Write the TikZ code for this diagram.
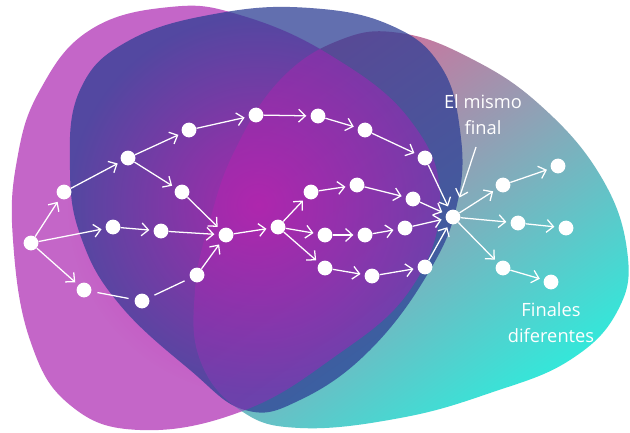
\documentclass[tikz,border=0pt]{standalone}
\usepackage{fontspec}
\setmainfont{Open Sans}
\usetikzlibrary{arrows.meta, fadings}

\definecolor{rosa}{HTML}{C466C8}
\definecolor{azul}{HTML}{2E3F95}
\definecolor{rosado}{HTML}{DA6898}
\definecolor{gris}{HTML}{8CA8B8}
\definecolor{turquesa}{HTML}{30EADB}
\definecolor{violeta}{HTML}{9A28B8}
\definecolor{brillo}{HTML}{C81EB0}

\tikzfading[name=halo, inner color=transparent!0, outer color=transparent!100]

\begin{document}
\begin{tikzpicture}
[x=0.025cm, y=-0.025cm,
 punto/.style={circle, fill=white, inner sep=0pt, minimum size=3.7mm},
 flecha/.style={draw=white, line width=0.9pt, -{Straight Barb[length=1.7mm,width=3.2mm]}, shorten >=1mm},
 linea/.style={draw=white, line width=0.9pt, shorten <=1.5mm, shorten >=1.5mm},
 rotulo/.style={text=white, align=center, font=\fontsize{13}{18.5}\selectfont}]

\path[use as bounding box, fill=white] (0,0) rectangle (630,433);

% las tres manchas
\def\rosaPts{(13,240) (17,160) (40,90) (90,30) (170,7) (240,15) (330,55) (410,120)
  (440,200) (410,290) (330,360) (240,412) (140,430) (70,405) (30,340)}
\def\azulPts{(70,170) (80,90) (130,40) (220,13) (310,8) (390,25) (440,65) (460,130)
  (458,200) (430,270) (370,350) (300,400) (245,410) (190,370) (120,305) (82,240)}
\def\turqPts{(210,220) (235,150) (280,80) (340,40) (400,33) (470,58) (540,105)
  (600,175) (627,250) (618,310) (570,360) (490,393) (400,418) (300,428) (240,410)
  (200,360) (195,290)}

\fill[rosa] plot[smooth cycle, tension=0.7] coordinates {\rosaPts};
\shade[top color=rosado, middle color=gris, bottom color=turquesa, shading angle=35]
  plot[smooth cycle, tension=0.7] coordinates {\turqPts};
\fill[azul, fill opacity=0.75] plot[smooth cycle, tension=0.7] coordinates {\azulPts};

% zona comun: mas violeta y un brillo al centro
\begin{scope}
  \clip plot[smooth cycle, tension=0.7] coordinates {\rosaPts};
  \begin{scope}
    \clip plot[smooth cycle, tension=0.7] coordinates {\turqPts};
    \fill[violeta, fill opacity=0.5] (0,0) rectangle (630,433);
  \end{scope}
  \fill[brillo, path fading=halo, fill opacity=0.7] (258,205) circle (190);
\end{scope}

% caminos
\node[punto] (ini) at (31,243) {};
\node[punto] (a1) at (64,192) {};
\node[punto] (a2) at (113,227) {};
\node[punto] (a3) at (84,290) {};
\node[punto] (b1) at (128,158) {};
\node[punto] (b2) at (189,130) {};
\node[punto] (b3) at (256,115) {};
\node[punto] (b4) at (318,116) {};
\node[punto] (b5) at (365,130) {};
\node[punto] (b6) at (425,158) {};
\node[punto] (c1) at (182,192) {};
\node[punto] (m2) at (161,231) {};
\node[punto] (d1) at (142,301) {};
\node[punto] (d2) at (197,275) {};
\node[punto] (une) at (226,235) {};
\node[punto] (rama) at (278,227) {};
\node[punto] (e1) at (311,192) {};
\node[punto] (e2) at (357,185) {};
\node[punto] (e3) at (413,199) {};
\node[punto] (f1) at (325,235) {};
\node[punto] (f2) at (365,235) {};
\node[punto] (f3) at (405,228) {};
\node[punto] (g1) at (325,268) {};
\node[punto] (g2) at (372,276) {};
\node[punto] (g3) at (425,267) {};
\node[punto] (fin) at (453,217) {};
\node[punto] (r1) at (503,185) {};
\node[punto] (s1) at (558,166) {};
\node[punto] (r2) at (518,223) {};
\node[punto] (s2) at (566,228) {};
\node[punto] (r3) at (503,268) {};
\node[punto] (s3) at (551,282) {};

\node[rotulo] (mismo) at (483,115) {El mismo\\final};
\node[rotulo] (distintos) at (551,323) {Finales\\diferentes};
\coordinate (senal) at (476,147);

\path[every edge/.style=flecha]
  (ini) edge (a1) edge (a2) edge (a3)
  (a1) edge (b1)
  (b1) edge (b2) edge (c1)
  (b2) edge (b3)
  (b3) edge (b4)
  (b4) edge (b5)
  (b5) edge (b6)
  (b6) edge (fin)
  (c1) edge (une)
  (a2) edge (m2)
  (m2) edge (une)
  (d2) edge (une)
  (une) edge (rama)
  (rama) edge (e1) edge (f1) edge (g1)
  (e1) edge (e2)
  (e2) edge (e3)
  (e3) edge (fin)
  (f1) edge (f2)
  (f2) edge (f3)
  (f3) edge (fin)
  (g1) edge (g2)
  (g2) edge (g3)
  (g3) edge (fin)
  (fin) edge (r1) edge (r2) edge (r3)
  (r1) edge (s1)
  (r2) edge (s2)
  (r3) edge (s3)
  (senal) edge [shorten >=3.2mm] (fin);
\path[every edge/.style=linea] (a3) edge (d1) (d1) edge (d2);
\end{tikzpicture}
\end{document}
